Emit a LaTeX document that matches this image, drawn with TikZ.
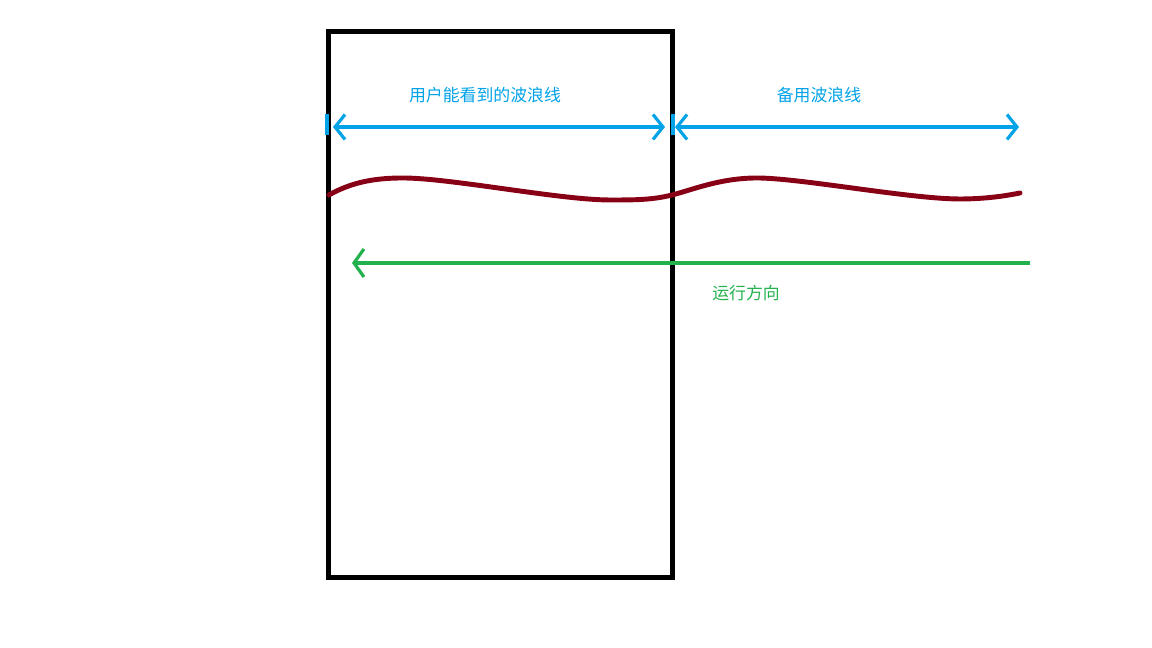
\documentclass[tikz,border=0pt]{standalone}
\usepackage{fontspec}
\setmainfont{Noto Sans CJK SC}
\usetikzlibrary{positioning}
\usetikzlibrary{arrows.meta}
\definecolor{paintblue}{RGB}{0,162,232}
\definecolor{paintred}{RGB}{136,0,21}
\definecolor{paintgreen}{RGB}{34,177,76}
\tikzset{
	span/.style={paintblue, line width=0.9pt, {Straight Barb[length=1mm, width=2.5mm, line width=0.9pt]}-{Straight Barb[length=1mm, width=2.5mm, line width=0.9pt]}},
	spanbar/.style={paintblue, line width=1.4pt},
	label/.style={font=\fontsize{4.8}{6}\selectfont, inner sep=0pt}
}
\begin{document}
\begin{tikzpicture}
			    		\useasboundingbox (0, 0) rectangle (11.52, -6.48);
			    		\draw[black, line width=1.42pt] (3.285, -0.315) rectangle (6.725, -5.775);
			    		% blue spans
			    		\coordinate (visL) at (3.33, -1.27);
			    		\coordinate (visR) at (6.65, -1.27);
			    		\coordinate (spareL) at (6.75, -1.27);
			    		\coordinate (spareR) at (10.19, -1.27);
			    		\draw[spanbar] (3.27, -1.14)--(3.27, -1.35);
			    		\draw[spanbar] (6.73, -1.14)--(6.73, -1.35);
			    		\draw[span] (visL)--(visR);
			    		\draw[span] (spareL)--(spareR);
			    		\node[label, paintblue] (visible) at (4.85, -0.95) {用户能看到的波浪线};
			    		\node[label, paintblue] (spare) at (8.19, -0.95) {备用波浪线};
			    		% wave
			    		\draw[paintred, line width=1.4pt, line cap=round] (3.29, -1.95) .. controls (3.52, -1.82) and (3.75, -1.78) .. (4.03, -1.78) .. controls (4.50, -1.78) and (5.60, -2.00) .. (6.10, -2.00) .. controls (6.35, -2.00) and (6.52, -2.00) .. (6.72, -1.95) .. controls (6.92, -1.90) and (7.20, -1.78) .. (7.57, -1.78) .. controls (8.00, -1.78) and (9.10, -1.99) .. (9.60, -1.99) .. controls (9.85, -1.99) and (10.05, -1.96) .. (10.20, -1.93);
			    		% direction
			    		\coordinate (dirR) at (10.30, -2.63);
			    		\coordinate (dirL) at (3.52, -2.63);
			    		\draw[paintgreen, line width=0.9pt, -{Straight Barb[length=1mm, width=2.8mm, line width=0.9pt]}] (dirR)--(dirL);
			    		\node[label, paintgreen] (direction) at (7.46, -2.93) {运行方向};
			    	\end{tikzpicture}
\end{document}
